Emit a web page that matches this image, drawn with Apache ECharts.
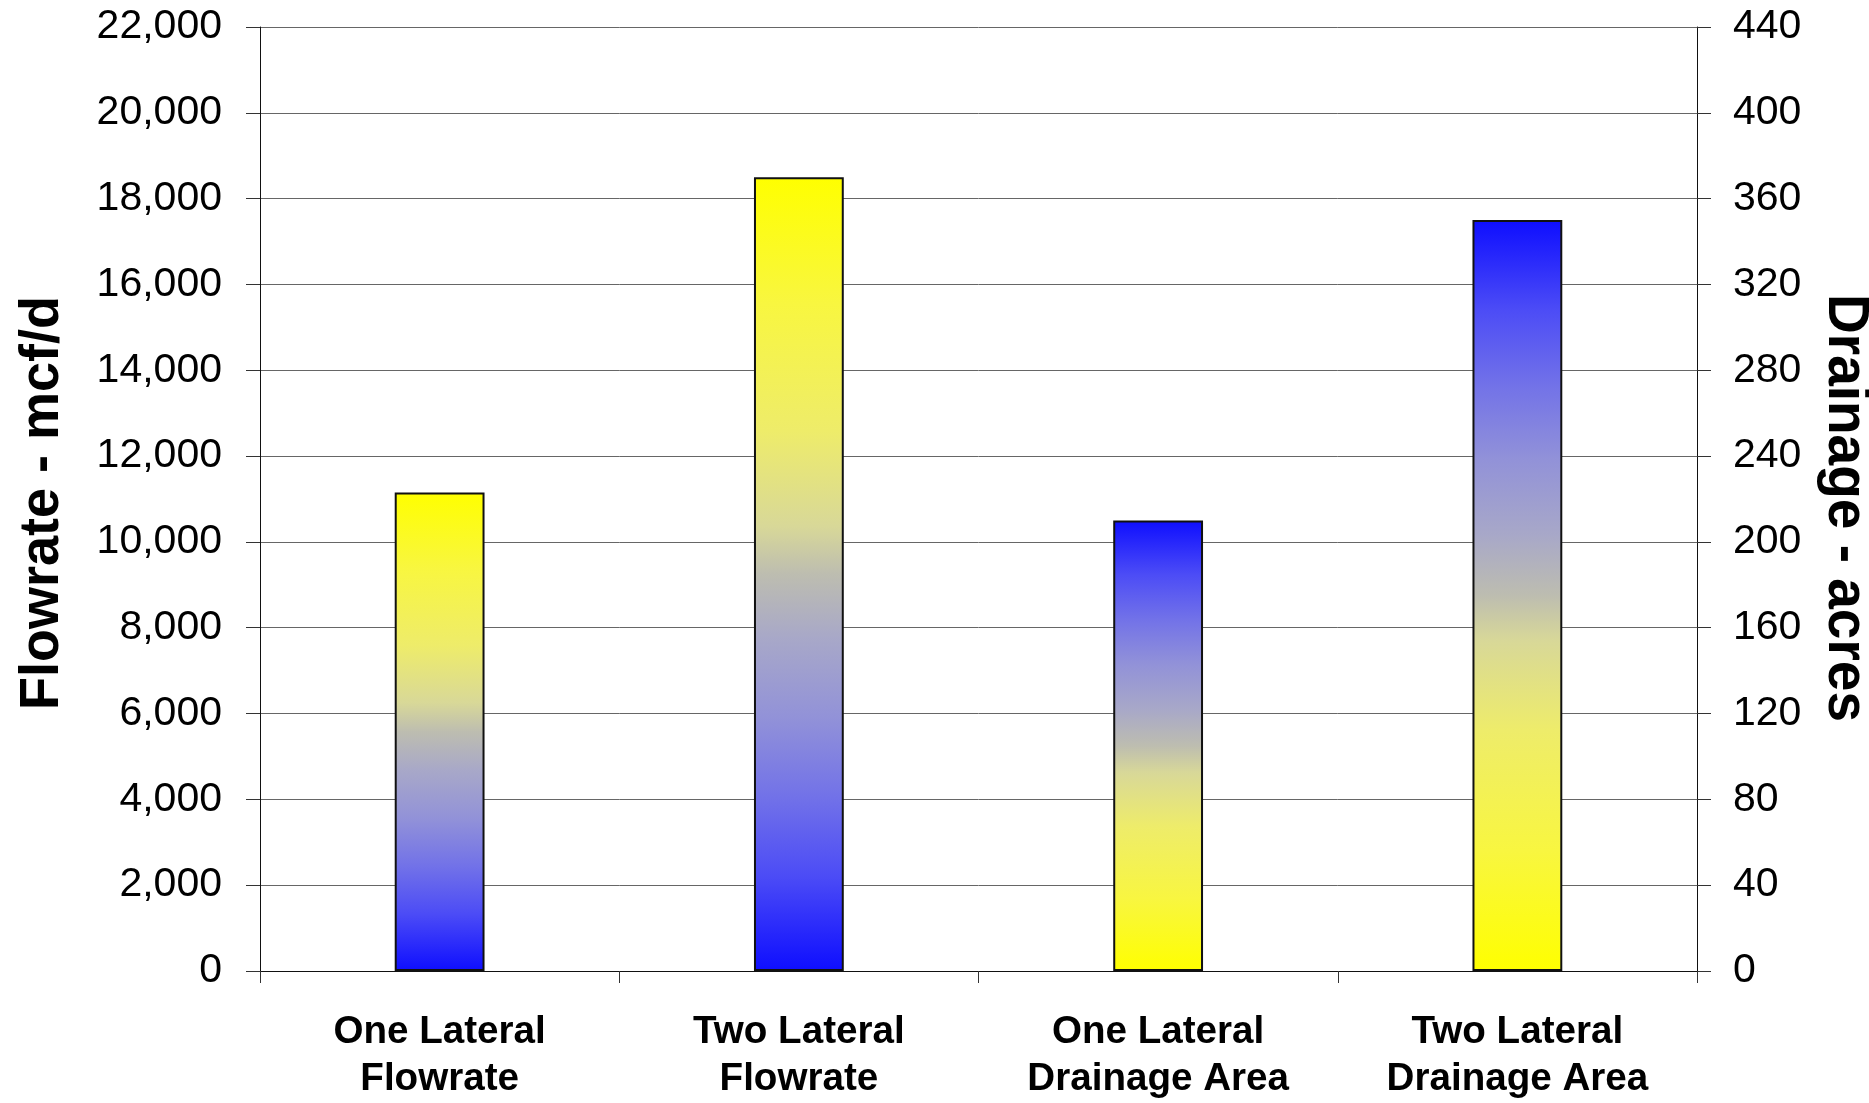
<!DOCTYPE html>
<html>
<head>
<meta charset="utf-8">
<title>Flowrate and Drainage Area</title>
<script src="https://cdn.jsdelivr.net/npm/echarts@6/dist/echarts.min.js"></script>
<style>
  html, body { margin: 0; padding: 0; background: #ffffff; }
  #chart { width: 1869px; height: 1103px; }
</style>
</head>
<body>
<div id="chart"></div>
<script>
// Categories along the bottom axis
const categories = [
  'One Lateral\nFlowrate',
  'Two Lateral\nFlowrate',
  'One Lateral\nDrainage Area',
  'Two Lateral\nDrainage Area'
];

// Flowrate (mcf/d), left axis; '-' leaves the slot empty
const flowrate = [11150, 18500, '-', '-'];
// Drainage area (acres), right axis
const drainage = ['-', '-', 210, 350];

// Axis ranges
const flowAxis = { min: 0, max: 22000, interval: 2000 };
const drainAxis = { min: 0, max: 440, interval: 40 };

// Axis titles
const leftTitle = 'Flowrate - mcf/d';
const rightTitle = 'Drainage - acres';

// Yellow-to-blue fill; stops run from top (0) to bottom (1) of each bar
const yellowToBlue = [
  [0.00, '#ffff00'], [0.16, '#f8f640'], [0.32, '#eeec6a'], [0.44, '#d8d898'],
  [0.50, '#bdbdb0'], [0.58, '#a8a8c8'], [0.68, '#9292d8'], [0.78, '#7272e8'],
  [0.88, '#4c4cf6'], [1.00, '#0e0eff']
];
function gradient(stops) {
  return new echarts.graphic.LinearGradient(0, 0, 0, 1,
    stops.map(s => ({ offset: s[0], color: s[1] })));
}
const flowFill = gradient(yellowToBlue);
const drainFill = gradient(yellowToBlue.map(s => [1 - s[0], s[1]]).reverse());

const FONT = '"Liberation Sans", Arial, sans-serif';

const chart = echarts.init(document.getElementById('chart'), null, { renderer: 'canvas' });

const valueAxisCommon = {
  type: 'value',
  splitLine: { show: true, lineStyle: { color: '#666666', width: 1 } },
  axisLine: { show: true, lineStyle: { color: '#111111', width: 1 } },
  axisTick: { show: true, length: 14, lineStyle: { color: '#333333', width: 1 } },
  axisLabel: { color: '#000000', fontFamily: FONT, fontSize: 41, margin: 38 }
};

chart.setOption({
  animation: false,
  backgroundColor: '#ffffff',
  grid: { left: 260, right: 172, top: 27, bottom: 121, containLabel: false },
  xAxis: {
    type: 'category',
    data: categories,
    axisLine: { show: true, lineStyle: { color: '#111111', width: 1 } },
    axisTick: { show: true, length: 12, alignWithLabel: false, lineStyle: { color: '#333333' } },
    axisLabel: {
      color: '#000000', fontFamily: FONT, fontWeight: 'bold', fontSize: 38.6,
      lineHeight: 47, margin: 38, interval: 0
    },
    splitLine: { show: false }
  },
  yAxis: [
    Object.assign({}, valueAxisCommon, flowAxis, {
      position: 'left',
      axisLabel: Object.assign({}, valueAxisCommon.axisLabel, {
        formatter: v => v.toLocaleString('en-US')
      })
    }),
    Object.assign({}, valueAxisCommon, drainAxis, {
      position: 'right',
      splitLine: { show: false },
      axisLabel: Object.assign({}, valueAxisCommon.axisLabel, { margin: 36 })
    })
  ],
  series: [
    {
      name: 'Flowrate',
      type: 'bar',
      yAxisIndex: 0,
      data: flowrate,
      barWidth: '25%',
      barGap: '-100%',
      itemStyle: { color: flowFill, borderColor: '#111111', borderWidth: 2 }
    },
    {
      name: 'Drainage',
      type: 'bar',
      yAxisIndex: 1,
      data: drainage,
      barWidth: '25%',
      barGap: '-100%',
      itemStyle: { color: drainFill, borderColor: '#111111', borderWidth: 2 }
    }
  ],
  graphic: [
    {
      type: 'text', x: 43, y: 503, rotation: Math.PI / 2, scaleY: 1.04,
      style: { text: leftTitle, font: 'bold 54px ' + FONT, fill: '#000000',
               align: 'center', verticalAlign: 'middle' }
    },
    {
      type: 'text', x: 1845, y: 508, rotation: -Math.PI / 2, scaleY: 1.04,
      style: { text: rightTitle, font: 'bold 55px ' + FONT, fill: '#000000',
               align: 'center', verticalAlign: 'middle' }
    }
  ]
});
</script>
</body>
</html>
